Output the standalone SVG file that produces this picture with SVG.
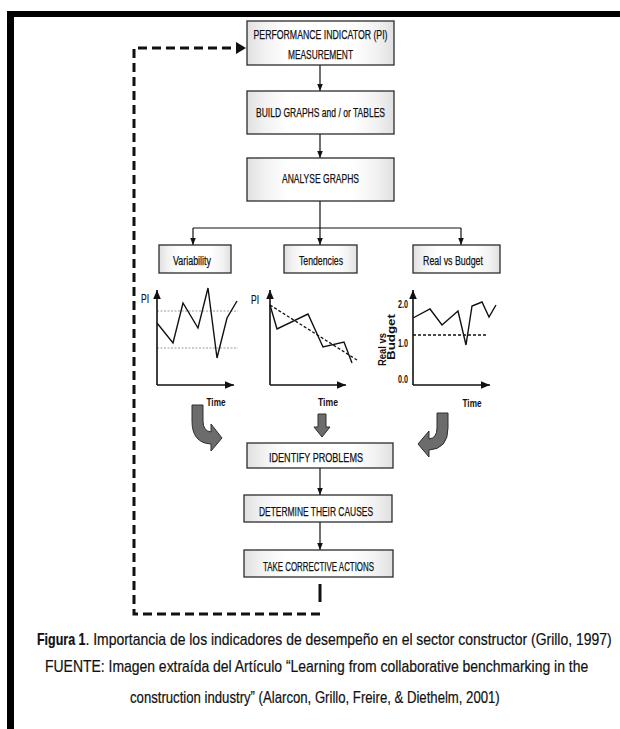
<svg xmlns="http://www.w3.org/2000/svg" width="620" height="729" viewBox="0 0 620 729">
  <defs>
    <linearGradient id="boxFill" x1="0" y1="0" x2="1" y2="0">
      <stop offset="0" stop-color="#e0e0e0"/>
      <stop offset="0.12" stop-color="#f2f2f2"/>
      <stop offset="0.28" stop-color="#ffffff"/>
      <stop offset="0.72" stop-color="#ffffff"/>
      <stop offset="0.88" stop-color="#f2f2f2"/>
      <stop offset="1" stop-color="#e0e0e0"/>
    </linearGradient>
    <marker id="tip" markerUnits="userSpaceOnUse" markerWidth="8" markerHeight="10" refX="7" refY="5" orient="auto">
      <path d="M0,2.2 L7,5 L0,7.8 Z" fill="#111"/>
    </marker>
    <marker id="axisTip" markerUnits="userSpaceOnUse" markerWidth="10" markerHeight="10" refX="9" refY="5" orient="auto">
      <path d="M0,1.2 L9,5 L0,8.8 Z" fill="#111"/>
    </marker>
  </defs>
  <style>
    .box{fill:url(#boxFill);stroke:#2b2b2b;stroke-width:1.3}
    .lbl{font-family:"Liberation Sans Narrow","Liberation Sans",Arial,sans-serif;font-size:12.5px;fill:#111;stroke:#111;stroke-width:0.25;text-anchor:middle}
    .ax{font-family:"Liberation Sans Narrow","Liberation Sans",Arial,sans-serif;font-size:11.5px;font-weight:bold;fill:#111}
    .pi{font-family:"Liberation Sans Narrow","Liberation Sans",Arial,sans-serif;font-size:12px;fill:#111;stroke:#111;stroke-width:0.2}
    .link{fill:none;stroke:#111;stroke-width:1.2}
    .axis{fill:none;stroke:#111;stroke-width:1.6}
    .data{fill:none;stroke:#111;stroke-width:1.4;stroke-linejoin:miter}
    .ref{fill:none;stroke:#111;stroke-width:1.3;stroke-dasharray:3 2}
    .dot{fill:none;stroke:#9a9a9a;stroke-width:1;stroke-dasharray:2 1.5}
    .loop{fill:none;stroke:#111;stroke-width:3;stroke-dasharray:9 5}
    .bigArrow{fill:#6c6c6c;stroke:#2e2e2e;stroke-width:1}
    .cap{font-family:"Liberation Sans Narrow","Liberation Sans",Arial,sans-serif;font-size:16px;fill:#111;stroke:#111;stroke-width:0.2}
  </style>

  <rect width="620" height="729" fill="#ffffff"/>

  <!-- page frame: top and left rules -->
  <rect x="7" y="11" width="613" height="6" fill="#000"/>
  <rect x="7" y="11" width="7" height="718" fill="#000"/>

  <!-- connectors -->
  <g id="connectors">
    <path class="link" d="M320,65 V91" marker-end="url(#tip)"/>
    <path class="link" d="M320,134 V158" marker-end="url(#tip)"/>
    <path class="link" d="M320,201 V245" marker-end="url(#tip)"/>
    <path class="link" d="M193,228 H461"/>
    <path class="link" d="M193,228 V245" marker-end="url(#tip)"/>
    <path class="link" d="M461,228 V245" marker-end="url(#tip)"/>
    <path class="link" d="M320,468 V495" marker-end="url(#tip)"/>
    <path class="link" d="M320,522 V550" marker-end="url(#tip)"/>
    <!-- feedback loop back to measurement -->
    <line x1="320" y1="584" x2="320" y2="602" stroke="#111" stroke-width="3"/>
    <path class="loop" d="M320,614 H134 V48 H238"/>
    <path d="M236,42 L246,48 L236,54 Z" fill="#111"/>
    <!-- block arrows from the charts -->
    <path class="bigArrow" d="M192,405 H203 V421 Q203,431 211,432 V424 L222,438 L211,451 V444 Q192,443 192,421 Z"/>
    <path class="bigArrow" d="M318,414 H326 V427 H330 L322,437 L314,427 H318 Z"/>
    <path class="bigArrow" d="M448,413 H437 V428 Q437,438 429,439 V431 L418,444 L429,457 V450 Q448,449 448,428 Z"/>
  </g>

  <g id="pi-measurement">
    <rect class="box" x="247" y="21" width="147" height="44"/>
    <text class="lbl" x="320.5" y="39" textLength="134" lengthAdjust="spacingAndGlyphs">PERFORMANCE INDICATOR (PI)</text>
    <text class="lbl" x="320.5" y="59" textLength="65" lengthAdjust="spacingAndGlyphs">MEASUREMENT</text>
  </g>

  <g id="build-graphs">
    <rect class="box" x="247" y="91" width="147" height="43"/>
    <text class="lbl" x="320.5" y="117" textLength="129" lengthAdjust="spacingAndGlyphs">BUILD GRAPHS and / or TABLES</text>
  </g>

  <g id="analyse-graphs">
    <rect class="box" x="247" y="158" width="147" height="43"/>
    <text class="lbl" x="320.5" y="183" textLength="77" lengthAdjust="spacingAndGlyphs">ANALYSE GRAPHS</text>
  </g>

  <g id="variability">
    <rect class="box" x="159" y="245" width="72" height="28"/>
    <text class="lbl" x="192" y="265" textLength="38" lengthAdjust="spacingAndGlyphs">Variability</text>
  </g>

  <g id="tendencies">
    <rect class="box" x="284" y="245" width="73" height="28"/>
    <text class="lbl" x="321" y="265" textLength="44" lengthAdjust="spacingAndGlyphs">Tendencies</text>
  </g>

  <g id="real-vs-budget">
    <rect class="box" x="413" y="245" width="87" height="28"/>
    <text class="lbl" x="453" y="265" textLength="60" lengthAdjust="spacingAndGlyphs">Real vs Budget</text>
  </g>

  <!-- variability chart -->
  <g id="chart-variability">
    <line class="dot" x1="157" y1="311" x2="238" y2="311"/>
    <line class="dot" x1="157" y1="348" x2="238" y2="348"/>
    <path class="axis" d="M157,385 V290" marker-end="url(#axisTip)"/>
    <path class="axis" d="M157,385 H234" marker-end="url(#axisTip)"/>
    <polyline class="data" points="157,323 173,343 183,303 198,328 208,288 217,358 227,318 237,301"/>
    <text class="pi" x="141" y="303" textLength="8" lengthAdjust="spacingAndGlyphs">PI</text>
    <text class="ax" x="216" y="406" text-anchor="middle" textLength="19" lengthAdjust="spacingAndGlyphs">Time</text>
  </g>

  <!-- tendencies chart -->
  <g id="chart-tendencies">
    <path class="axis" d="M270,385 V290" marker-end="url(#axisTip)"/>
    <path class="axis" d="M270,385 H346" marker-end="url(#axisTip)"/>
    <line class="ref" x1="270" y1="305" x2="357" y2="360"/>
    <polyline class="data" points="270,305 277,329 308,314 323,347 344,342 352,363"/>
    <text class="pi" x="251" y="304" textLength="8" lengthAdjust="spacingAndGlyphs">PI</text>
    <text class="ax" x="328" y="406" text-anchor="middle" textLength="20" lengthAdjust="spacingAndGlyphs">Time</text>
  </g>

  <!-- real vs budget chart -->
  <g id="chart-budget">
    <path class="axis" d="M413,385 V290" marker-end="url(#axisTip)"/>
    <path class="axis" d="M413,385 H490" marker-end="url(#axisTip)"/>
    <line class="ref" x1="413" y1="335" x2="488" y2="335"/>
    <polyline class="data" points="413,318 430,309 442,325 458,311 466,345 472,306 482,302 489,317 496,305"/>
    <text class="ax" x="408" y="308" text-anchor="end" textLength="10" lengthAdjust="spacingAndGlyphs">2.0</text>
    <text class="ax" x="408" y="347" text-anchor="end" textLength="10" lengthAdjust="spacingAndGlyphs">1.0</text>
    <text class="ax" x="408" y="383" text-anchor="end" textLength="10" lengthAdjust="spacingAndGlyphs">0.0</text>
    <text class="ax" transform="translate(386,366) rotate(-90)" font-size="11" textLength="33" lengthAdjust="spacingAndGlyphs">Real vs</text>
    <text class="ax" transform="translate(394.5,360) rotate(-90)" font-size="11" textLength="46" lengthAdjust="spacingAndGlyphs">Budget</text>
    <text class="ax" x="472" y="407" text-anchor="middle" textLength="19" lengthAdjust="spacingAndGlyphs">Time</text>
  </g>

  <g id="identify-problems">
    <rect class="box" x="247" y="443" width="146" height="25"/>
    <text class="lbl" x="316" y="462" textLength="94" lengthAdjust="spacingAndGlyphs">IDENTIFY PROBLEMS</text>
  </g>

  <g id="determine-causes">
    <rect class="box" x="244" y="495" width="148" height="27"/>
    <text class="lbl" x="316" y="516" textLength="114" lengthAdjust="spacingAndGlyphs">DETERMINE THEIR CAUSES</text>
  </g>

  <g id="corrective-actions">
    <rect class="box" x="244" y="550" width="149" height="27"/>
    <text class="lbl" x="318.5" y="571" textLength="111" lengthAdjust="spacingAndGlyphs">TAKE CORRECTIVE ACTIONS</text>
  </g>

  <!-- caption, set in a condensed face (horizontal squeeze) -->
  <g id="caption">
    <g transform="translate(37,645) scale(0.85,1)">
      <text class="cap" x="0" y="0" font-weight="bold" textLength="57" lengthAdjust="spacingAndGlyphs">Figura 1</text>
      <text class="cap" x="57" y="0" textLength="619" lengthAdjust="spacingAndGlyphs">. Importancia de los indicadores de desempeño en el sector constructor (Grillo, 1997)</text>
    </g>
    <g transform="translate(45,671.5) scale(0.85,1)">
      <text class="cap" x="0" y="0" textLength="639" lengthAdjust="spacingAndGlyphs">FUENTE: Imagen extraída del Artículo “Learning from collaborative benchmarking in the</text>
    </g>
    <g transform="translate(130,703) scale(0.85,1)">
      <text class="cap" x="0" y="0" textLength="435" lengthAdjust="spacingAndGlyphs">construction industry” (Alarcon, Grillo, Freire, &amp; Diethelm, 2001)</text>
    </g>
  </g>
</svg>
